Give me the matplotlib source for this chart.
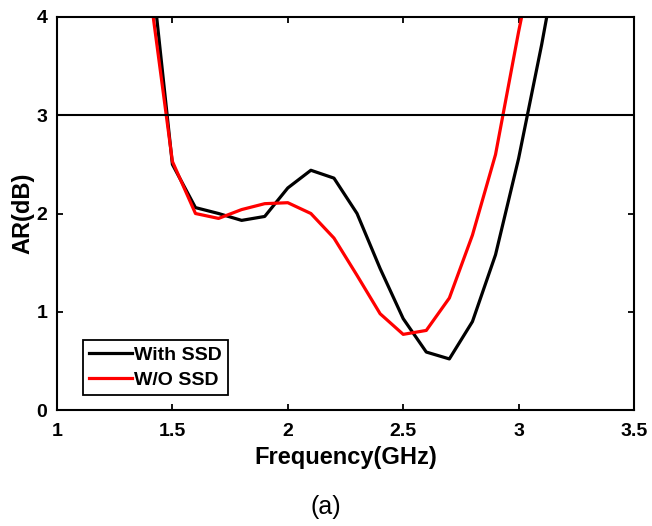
import numpy as np
import matplotlib
matplotlib.use('Agg')
import matplotlib.pyplot as plt

plt.rcParams['font.family'] = ['Liberation Sans', 'DejaVu Sans']

freq = [1.4, 1.5, 1.6, 1.7, 1.8, 1.9, 2.0, 2.1, 2.2, 2.3,
        2.4, 2.5, 2.6, 2.7, 2.8, 2.9, 3.0, 3.1, 3.2]
ar_with_ssd = [4.7, 2.50, 2.06, 2.00, 1.93, 1.97, 2.26, 2.44, 2.36, 2.00,
               1.44, 0.93, 0.59, 0.52, 0.90, 1.58, 2.56, 3.72, 5.00]
ar_wo_ssd = [4.3, 2.53, 2.00, 1.95, 2.04, 2.10, 2.11, 2.00, 1.75, 1.37,
             0.98, 0.77, 0.81, 1.14, 1.78, 2.60, 3.85, 5.00, 6.20]
ar_limit = 3

fig = plt.figure(figsize=(6.52, 5.26), dpi=100)
ax = fig.add_axes([0.0874, 0.2205, 0.885, 0.7472])

ax.plot(freq, ar_with_ssd, color='black', lw=2.3, label='With SSD')
ax.plot(freq, ar_wo_ssd, color='#ff0000', lw=2.3, label='W/O SSD')
ax.axhline(ar_limit, color='black', lw=1.5)

ax.set_xlim(1, 3.5)
ax.set_ylim(0, 4)
ax.set_xticks([1, 1.5, 2, 2.5, 3, 3.5])
ax.set_xticklabels(['1', '1.5', '2', '2.5', '3', '3.5'])
ax.set_yticks([0, 1, 2, 3, 4])
ax.tick_params(direction='in', top=True, right=True, length=4, width=1.3,
               labelsize=14)
ax.tick_params(axis='x', pad=9)
ax.tick_params(axis='y', pad=7)
for lab in ax.get_xticklabels() + ax.get_yticklabels():
    lab.set_fontweight('bold')
for sp in ax.spines.values():
    sp.set_linewidth(1.5)

ax.set_xlabel('Frequency(GHz)', fontsize=17, fontweight='bold', labelpad=5)
ax.set_ylabel('AR(dB)', fontsize=17, fontweight='bold', labelpad=1.5)

leg = ax.legend(loc='lower left', bbox_to_anchor=(0.045, 0.038), borderaxespad=0,
                fancybox=False, edgecolor='black', framealpha=1,
                prop={'weight': 'bold', 'size': 14}, handlelength=2.2,
                handletextpad=0.15, borderpad=0.3, labelspacing=0.4)
leg.get_frame().set_linewidth(1.3)

fig.text(0.5, 0.037, '(a)', ha='center', va='center', fontsize=18)

fig.savefig('out.png', dpi=100)
